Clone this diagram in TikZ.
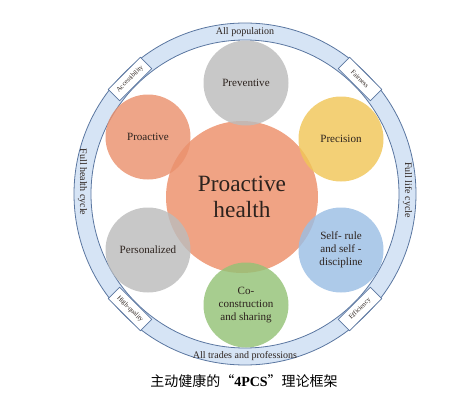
\documentclass[tikz,border=0pt]{standalone}
\usepackage{fontspec}
\setmainfont{Liberation Serif}
\newfontfamily\cjk{Noto Sans CJK SC}

\definecolor{ringfill}{RGB}{214,228,245}
\definecolor{ringline}{RGB}{90,118,160}
\definecolor{salmonhub}{RGB}{240,163,132}
\definecolor{salmon}{RGB}{234,145,110}
\definecolor{softgrey}{RGB}{188,188,188}
\definecolor{softyellow}{RGB}{240,198,88}
\definecolor{softblue}{RGB}{155,190,228}
\definecolor{softgreen}{RGB}{148,194,118}
\definecolor{inktext}{RGB}{45,35,30}

\tikzset{every picture/.style={line width=0.75pt}}
\tikzset{
  petal/.style={circle, inner sep=0pt, minimum size=63.75pt, fill opacity=0.82, text opacity=1,
    align=center, text=inktext, font=\fontsize{8.3}{9.75}\selectfont},
  hub/.style={circle, inner sep=0pt, minimum size=114pt, fill=salmonhub, align=center,
    text=inktext, font=\fontsize{17.5}{20}\selectfont},
  ringtag/.style={inner sep=0pt, text=inktext, font=\fontsize{7.5}{9}\selectfont},
  tagbox/.style={draw=ringline, line width=0.5pt, fill=white, inner sep=0pt,
    minimum width=34pt, minimum height=12pt, text=inktext, font=\fontsize{5}{6}\selectfont}
}

\begin{document}
\begin{tikzpicture}[x=0.75pt,y=0.75pt,yscale=-1,xscale=1]
    \useasboundingbox (0,0) rectangle (472,400);

    %Shape: Ring
    \draw [ringline, fill=ringfill, even odd rule, line width=0.6pt] (245,194) circle (171) (245,194) circle (154);

    %Ring labels
    \node [ringtag] (allpop) at (245,32) {All population};
    \node [ringtag] (alltrades) at (245,356) {All trades and professions};
    \node [ringtag, rotate=-90] (healthcyc) at (82.5,182) {Full health cycle};
    \node [ringtag, rotate=-90] (lifecyc) at (407.5,190) {Full life cycle};

    %Ring boxes
    \node [tagbox, rotate=45] (access) at (130,79) {Accessibility};
    \node [tagbox, rotate=-45] (fair) at (360,79) {Fairness};
    \node [tagbox, rotate=-45] (quality) at (130,309) {High-quality};
    \node [tagbox, rotate=45] (effic) at (360,309) {Efficiency};

    %Shape: Circle, centre
    \node [hub] (hub) at (242,197) {Proactive\\health};

    %Shape: Circles, around
    \node [petal, fill=softgrey] (preventive) at (246,83) {Preventive};
    \node [petal, fill=softyellow] (precision) at (341,139) {Precision};
    \node [petal, fill=softblue] (selfrule) at (341,250) {Self- rule\\and self -\\discipline};
    \node [petal, fill=softgreen] (cocon) at (246,305) {Co-\\construction\\and sharing};
    \node [petal, fill=softgrey] (personal) at (148,250) {Personalized};
    \node [petal, fill=salmon] (proactive) at (148,137) {Proactive};

    %Caption
    \node [inner sep=0pt, font=\fontsize{10.5}{12}\selectfont] (caption) at (244,381)
      {\cjk 主动健康的“{\rmfamily\bfseries 4PCS}”理论框架};

\end{tikzpicture}
\end{document}
